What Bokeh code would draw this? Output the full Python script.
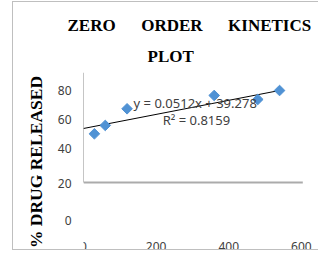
from bokeh.plotting import figure
from bokeh.models import (Range1d, FixedTicker, Title, Label,
                          CustomJSTickFormatter, AllLabels)
from bokeh.embed import file_html
from bokeh.resources import INLINE

# ---- data ----
time_min = [30, 60, 120, 360, 480, 540]
drug_released = [35.4, 41.5, 53.6, 63.3, 60.4, 66.9]
trend_slope = 0.0512
trend_intercept = 39.278
r_squared = 0.8159
trend_x = [0, 540]
x_tick_values = [0, 200, 400, 600]
y_tick_labels = ["80", "60", "40", "20", "0"]
equation_text = "y = 0.0512x + 39.278"
r2_text = "R\u00b2 = 0.8159"

# ---- layout (label positions as drawn in the original picture) ----
y_tick_positions = [66.9, 45.8, 24.7, -0.7, -27.6]

SERIF = "Liberation Serif"
SANS = "Noto Sans"
TICK_COLOR = "#404040"

p = figure(width=306, height=249, title=None,
           x_range=Range1d(0, 650), y_range=Range1d(-50.2, 80),
           output_backend="svg", toolbar_location=None,
           min_border_left=70, min_border_right=0,
           min_border_top=70, min_border_bottom=0,
           styles={"border-left": "1px solid #BFBFBF",
                   "border-top": "1px solid #BFBFBF",
                   "border-bottom": "1px solid #BFBFBF",
                   "margin-left": "12px", "margin-top": "1px"})
p.grid.visible = False
p.outline_line_color = None
p.background_fill_color = "white"
p.border_fill_color = "white"

# titles
p.add_layout(Title(text="PLOT", align="left", offset=64, standoff=13,
                   text_font=SERIF, text_font_style="bold",
                   text_font_size="17px", text_color="black"), "above")
nb = "\u00a0" * 6
p.add_layout(Title(text=f"ZERO{nb}ORDER{nb}KINETICS", align="left", offset=-16,
                   standoff=8, text_font=SERIF, text_font_style="bold",
                   text_font_size="17px", text_color="black"), "above")

# y axis
ya = p.yaxis[0]
ya.ticker = FixedTicker(ticks=y_tick_positions)
ya.formatter = CustomJSTickFormatter(
    args=dict(pos=y_tick_positions, labs=y_tick_labels),
    code="""
let best = 0, d = Infinity;
for (let i = 0; i < pos.length; i++) {
  const e = Math.abs(pos[i] - tick);
  if (e < d) { d = e; best = i; }
}
return labs[best];
""")
ya.major_label_policy = AllLabels()
ya.axis_line_color = None
ya.major_tick_line_color = None
ya.minor_tick_line_color = None
ya.major_tick_out = 0
ya.major_tick_in = 0
ya.major_label_standoff = 12
ya.major_label_text_font = SANS
ya.major_label_text_font_size = "12px"
ya.major_label_text_color = TICK_COLOR
ya.axis_label = "% DRUG RELEASED"
ya.axis_label_standoff = 9
ya.axis_label_text_font = SERIF
ya.axis_label_text_font_style = "bold"
ya.axis_label_text_font_size = "17.5px"
ya.axis_label_text_color = "black"

# x axis
xa = p.xaxis[0]
xa.ticker = FixedTicker(ticks=x_tick_values)
xa.fixed_location = -43.6
xa.axis_line_color = None
xa.major_tick_line_color = None
xa.minor_tick_line_color = None
xa.major_tick_out = 0
xa.major_tick_in = 0
xa.major_label_standoff = 0
xa.major_label_text_font = SANS
xa.major_label_text_font_size = "12px"
xa.major_label_text_color = TICK_COLOR

# axis lines of the chart box
p.segment(x0=[0], y0=[0], x1=[0], y1=[80], line_color="#8C8C8C", line_width=1)
p.segment(x0=[0], y0=[0], x1=[604], y1=[0], line_color="#ABABAB", line_width=2)

# trend line
trend_y = [trend_slope * x + trend_intercept for x in trend_x]
p.line(trend_x, trend_y, line_color="black", line_width=1)

# data points
p.scatter(time_min, drug_released, marker="square", angle=0.7854, size=7.5,
          fill_color="#5092D4", line_color="#5092D4")

# equation labels
p.add_layout(Label(x=138, y=57.5, text=equation_text, text_baseline="middle",
                   text_font=SANS, text_font_size="13px", text_color=TICK_COLOR))
p.add_layout(Label(x=218, y=45.1, text=r2_text, text_baseline="middle",
                   text_font=SANS, text_font_size="13px", text_color=TICK_COLOR))

open("out.html", "w").write(file_html(p, INLINE))
